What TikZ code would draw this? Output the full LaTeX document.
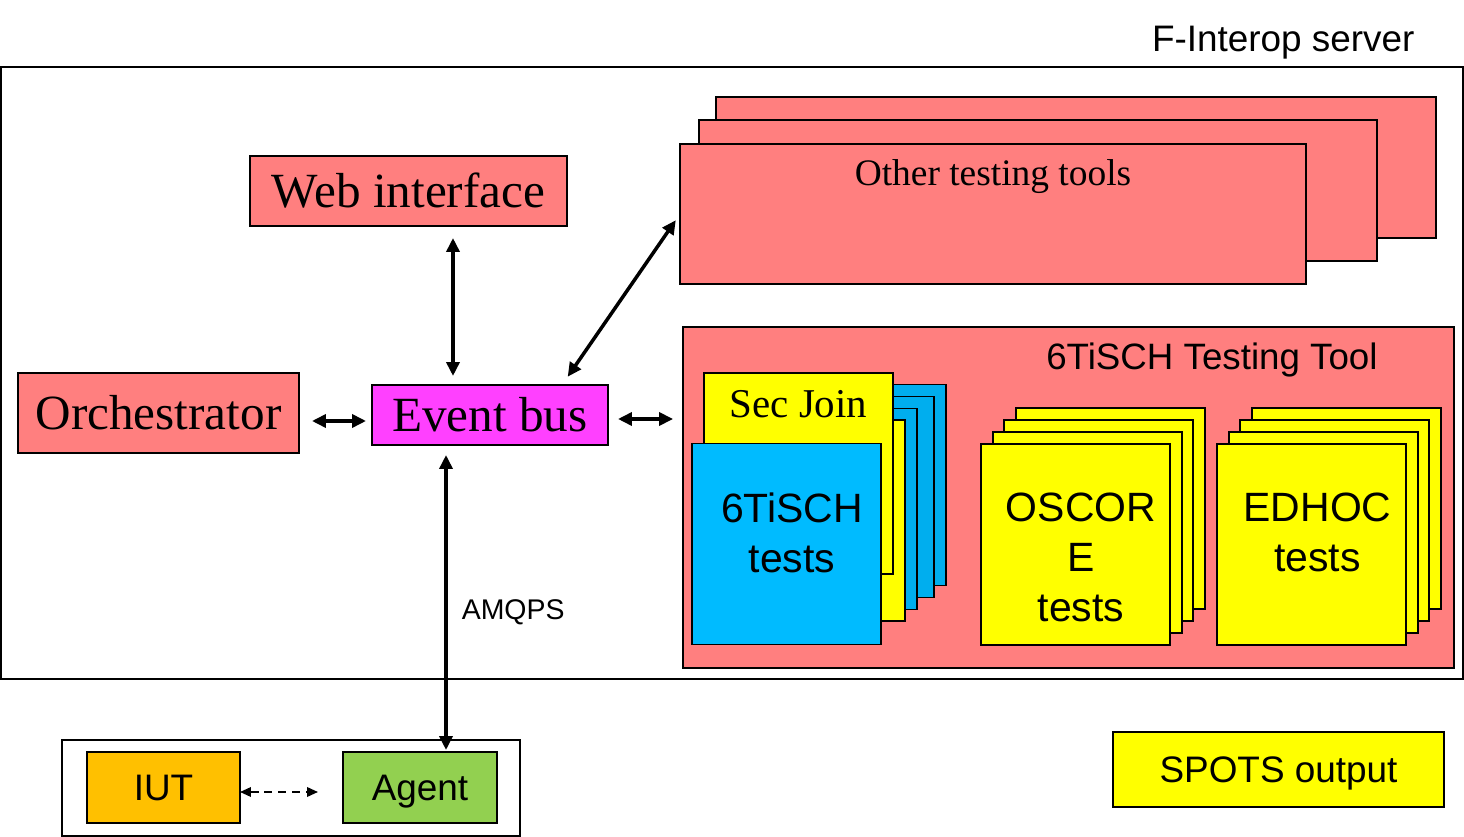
\documentclass[tikz,border=0pt]{standalone}
\usepackage{fontspec}
\setmainfont{Liberation Serif}
\setsansfont{Liberation Sans}
\usetikzlibrary{arrows.meta}

\definecolor{salmon}{HTML}{FF7F7F}
\definecolor{busmagenta}{HTML}{FF40FF}
\definecolor{cardyellow}{HTML}{FFFF00}
\definecolor{tischblue}{HTML}{00BBFF}
\definecolor{tischback}{HTML}{00AEEE}
\definecolor{iutorange}{HTML}{FFC000}
\definecolor{agentgreen}{HTML}{92D050}

\begin{document}
\begin{tikzpicture}[x=0.02cm, y=-0.02cm,
		box/.style={draw, line width=1.1pt, inner sep=0pt, outer sep=0pt},
		card/.style={box, minimum width=3.78cm, minimum height=4.02cm},
		bigserif/.style={font=\fontsize{28}{34}\selectfont},
		stacktext/.style={font=\sffamily\fontsize{23.3}{28.5}\selectfont, align=center, anchor=base},
		plainsans/.style={font=\sffamily\fontsize{21}{25}\selectfont, text depth=0pt},
		link/.style={{Triangle[length=0.28cm,width=0.26cm]}-{Triangle[length=0.28cm,width=0.26cm]}, line width=2pt},
		dlink/.style={{Triangle[length=0.22cm,width=0.19cm]}-{Triangle[length=0.22cm,width=0.19cm]}, line width=1.1pt, dash pattern=on 0.16cm off 0.12cm, shorten >=0.5cm}]
	
	\useasboundingbox (0,0) rectangle (1464,837);
	
	\node[box, minimum width=29.24cm, minimum height=12.24cm] (server) at (732,373) {};
	\node[inner sep=0pt, anchor=base east, font=\sffamily\fontsize{21}{25}\selectfont] (servertxt) at ([xshift=-0.96cm, yshift=0.32cm]server.north east) {F-Interop server};
	
	\begin{scope}
		\node[box, fill=salmon, minimum width=14.4cm, minimum height=2.82cm] (other3) at (1076,167.5) {};
		\node[box, fill=salmon, minimum width=13.56cm, minimum height=2.82cm] (other2) at (1038,190.5) {};
		\node[box, fill=salmon, minimum width=12.52cm, minimum height=2.8cm,
			label={[anchor=base, yshift=-0.82cm, font=\fontsize{21.3}{25}\selectfont]north:Other testing tools}] (other) at (993,214) {};
	\end{scope}
	
	\node[box, fill=salmon, minimum width=6.34cm, minimum height=1.4cm, bigserif] (web) at (408.5,191) {Web interface};
	\node[box, fill=salmon, minimum width=5.62cm, minimum height=1.6cm, bigserif] (orch) at (158.5,413) {Orchestrator};
	\node[box, fill=busmagenta, minimum width=4.72cm, minimum height=1.2cm, bigserif] (bus) at (490,415) {Event bus};
	
	\begin{scope}
		\node[box, fill=salmon, minimum width=15.42cm, minimum height=6.82cm] (tool) at (1068.5,497.5) {};
		\node[inner sep=0pt, anchor=base east, font=\sffamily\fontsize{20.9}{25}\selectfont] (tooltxt) at ([xshift=-1.52cm, yshift=-0.84cm]tool.north east) {6TiSCH Testing Tool};
		
		\foreach \cx/\cy [count=\i] in {851.5/485, 839.5/497, 822.5/509}
			\node[card, fill=tischback] (tischback\i) at (\cx,\cy) {};
		\node[card, fill=cardyellow] (secback) at (810.5,520.5) {};
		\node[card, fill=cardyellow,
			label={[anchor=base, yshift=-0.88cm, font=\fontsize{23.3}{28}\selectfont]north:Sec Join}] (secjoin) at (798.5,473.5) {};
		\node[card, fill=tischblue,
			label={[stacktext, xshift=0.11cm, yshift=-2.58cm]north:6TiSCH\\tests}] (tisch) at (786.5,544) {};
		
		\foreach \i in {3,2,1}
			\node[card, fill=cardyellow] (oscore\i) at (1075.5+11.7*\i, 544.5-12*\i) {};
		\node[card, fill=cardyellow,
			label={[stacktext, xshift=0.11cm, yshift=-3.56cm]north:OSCOR\\E\\tests}] (oscore) at (1075.5,544.5) {};
		
		\foreach \i in {3,2,1}
			\node[card, fill=cardyellow] (edhoc\i) at (1311.5+11.7*\i, 544.5-12*\i) {};
		\node[card, fill=cardyellow,
			label={[stacktext, xshift=0.12cm, yshift=-2.56cm]north:EDHOC\\tests}] (edhoc) at (1311.5,544.5) {};
	\end{scope}
	
	\begin{scope}
		\node[box, fill=white, minimum width=9.16cm, minimum height=1.92cm] (group) at (291,788) {};
		\node[box, fill=iutorange, minimum width=3.06cm, minimum height=1.42cm, plainsans] (iut) at (163.5,787.5) {IUT};
		\node[box, fill=agentgreen, minimum width=3.08cm, minimum height=1.42cm, plainsans] (agent) at (420,787.5) {Agent};
	\end{scope}
	
	\node[box, fill=cardyellow, minimum width=6.62cm, minimum height=1.5cm, plainsans] (spots) at (1278.5,769.5) {SPOTS output};
	
	\draw[link, shorten <=0.24cm, shorten >=0.18cm] ([xshift=0.89cm]web.south) -- ([xshift=0.89cm]web.south |- bus.north);
	\draw[link, shorten <=0.2cm, shorten >=0.15cm] ([xshift=1.44cm]bus.north) -- (other.west);
	\draw[link, shorten <=0.26cm, shorten >=0.12cm] ([yshift=-0.12cm]bus.west -| orch.east) -- ([yshift=-0.12cm]bus.west);
	\draw[link, shorten <=0.2cm, shorten >=0.2cm] ([yshift=-0.08cm]bus.east) -- ([yshift=-0.08cm]bus.east -| tool.west);
	\draw[link, shorten <=0.2cm, shorten >=0.04cm] ([xshift=-0.88cm]bus.south) -- ([xshift=-0.88cm]bus.south |- agent.north)
		node[pos=0.544, right=0.28cm, inner sep=0pt, font=\sffamily\fontsize{16.2}{20}\selectfont] (amqps) {AMQPS};
	\draw[dlink] ([yshift=-0.09cm]iut.east) -- ([yshift=-0.09cm]iut.east -| agent.west);
	
\end{tikzpicture}
\end{document}
